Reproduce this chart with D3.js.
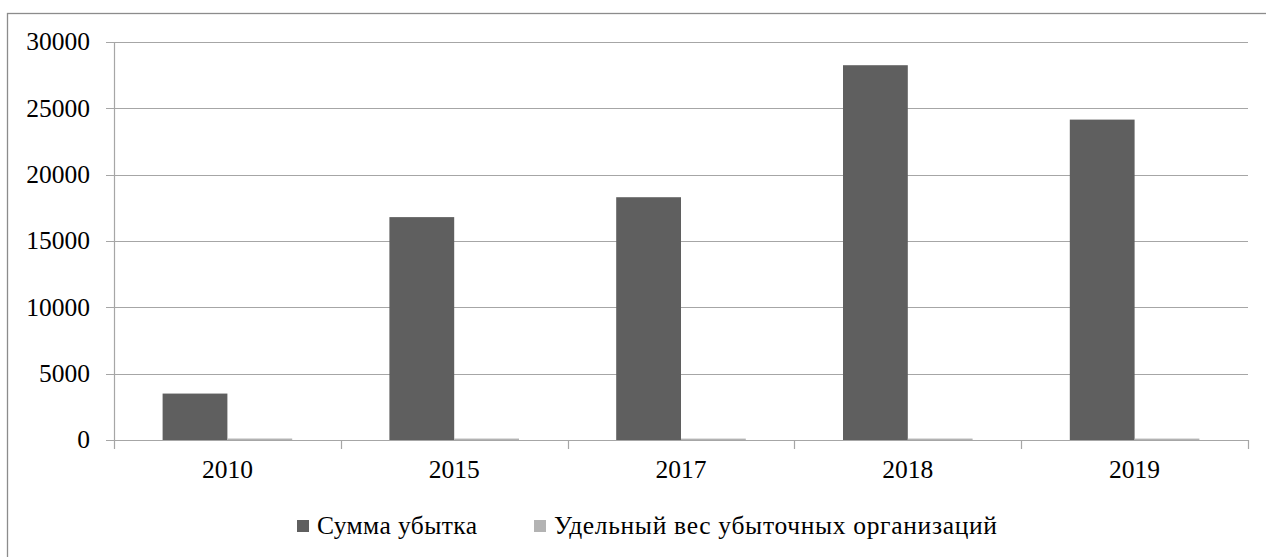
<!DOCTYPE html>
<html>
<head>
<meta charset="utf-8">
<script src="https://cdn.jsdelivr.net/npm/d3@7"></script>
<style>
  body { margin: 0; background: #fff; }
</style>
</head>
<body>
<div id="chart"></div>
<script>
const years = ['2010', '2015', '2017', '2018', '2019'];
const lossSum = [3500, 16800, 18300, 28250, 24150];
const lossShare = [36, 33, 30, 32, 31];
const seriesNames = ['Сумма убытка', 'Удельный вес убыточных организаций'];
const yTicks = [0, 5000, 10000, 15000, 20000, 25000, 30000];

const w = 1266;
const h = 557;
const plotLeft = 114, plotRight = 1248, plotTop = 42, plotBottom = 440;
const fontSize = '25.5px';
const font = '"Liberation Serif"';

const svg = d3.select('#chart')
  .append('svg')
  .attr('width', w)
  .attr('height', h);

// chart frame, runs off the right and bottom of the picture
svg.append('rect')
  .attr('x', 7.5)
  .attr('y', 13.5)
  .attr('width', 1300)
  .attr('height', 600)
  .attr('fill', 'none')
  .attr('stroke', '#8c8c8c')
  .attr('stroke-width', 1.3);

const xScale = d3.scaleBand()
  .domain(years)
  .range([plotLeft, plotRight]);

const inner = d3.scaleBand()
  .domain([0, 1])
  .range([0, xScale.bandwidth()])
  .paddingOuter(0.75)
  .paddingInner(0);

const yScale = d3.scaleLinear()
  .domain([0, 30000])
  .range([plotBottom, plotTop]);

// gridlines + y ticks
svg.append('g')
  .selectAll('line')
  .data(yTicks)
  .enter()
  .append('line')
  .attr('x1', plotLeft - 8)
  .attr('x2', plotRight)
  .attr('y1', d => Math.round(yScale(d)) + 0.5)
  .attr('y2', d => Math.round(yScale(d)) + 0.5)
  .attr('stroke', '#a6a6a6')
  .attr('stroke-width', 1.2);

svg.append('g')
  .selectAll('text')
  .data(yTicks)
  .enter()
  .append('text')
  .text(d => d)
  .attr('x', 90)
  .attr('y', d => yScale(d))
  .attr('dy', '0.33em')
  .attr('text-anchor', 'end')
  .style('font-family', font)
  .style('font-size', fontSize);

// bars
const groups = svg.append('g')
  .selectAll('g')
  .data(years)
  .enter()
  .append('g')
  .attr('transform', d => 'translate(' + xScale(d) + ',0)');

groups.append('rect')
  .attr('x', inner(0))
  .attr('width', inner.bandwidth())
  .attr('y', (d, i) => yScale(lossSum[i]))
  .attr('height', (d, i) => plotBottom - yScale(lossSum[i]))
  .attr('fill', '#5f5f5f');

groups.append('rect')
  .attr('x', inner(1))
  .attr('width', inner.bandwidth())
  .attr('y', (d, i) => yScale(lossShare[i]) - 1)
  .attr('height', (d, i) => plotBottom - yScale(lossShare[i]) + 1)
  .attr('fill', '#b3b3b3');

// y axis line
svg.append('line')
  .attr('x1', plotLeft + 0.5).attr('x2', plotLeft + 0.5)
  .attr('y1', plotTop).attr('y2', plotBottom + 9)
  .attr('stroke', '#a6a6a6')
  .attr('stroke-width', 1.2);

// x category boundary ticks
svg.append('g')
  .selectAll('line')
  .data(years)
  .enter()
  .append('line')
  .attr('x1', d => Math.round(xScale(d) + xScale.bandwidth()) + 0.5)
  .attr('x2', d => Math.round(xScale(d) + xScale.bandwidth()) + 0.5)
  .attr('y1', plotBottom)
  .attr('y2', plotBottom + 9)
  .attr('stroke', '#a6a6a6')
  .attr('stroke-width', 1.2);

svg.append('g')
  .selectAll('text')
  .data(years)
  .enter()
  .append('text')
  .text(d => d)
  .attr('x', d => xScale(d) + xScale.bandwidth() / 2)
  .attr('y', 478)
  .attr('text-anchor', 'middle')
  .style('font-family', font)
  .style('font-size', fontSize);

// legend (the original text is letter-spaced, so stretch it to its width)
const legendX = [297, 534];
const legendWidths = [160, 443];
const legendColors = ['#5f5f5f', '#b3b3b3'];
const legend = svg.append('g')
  .selectAll('g')
  .data(seriesNames)
  .enter()
  .append('g')
  .attr('transform', (d, i) => 'translate(' + legendX[i] + ',0)');

legend.append('rect')
  .attr('x', 0)
  .attr('y', 520)
  .attr('width', 12)
  .attr('height', 12)
  .attr('fill', (d, i) => legendColors[i]);

legend.append('text')
  .text(d => d)
  .attr('x', 20)
  .attr('y', 534)
  .attr('textLength', (d, i) => legendWidths[i])
  .attr('lengthAdjust', 'spacing')
  .style('font-family', font)
  .style('font-size', fontSize);
</script>
</body>
</html>
